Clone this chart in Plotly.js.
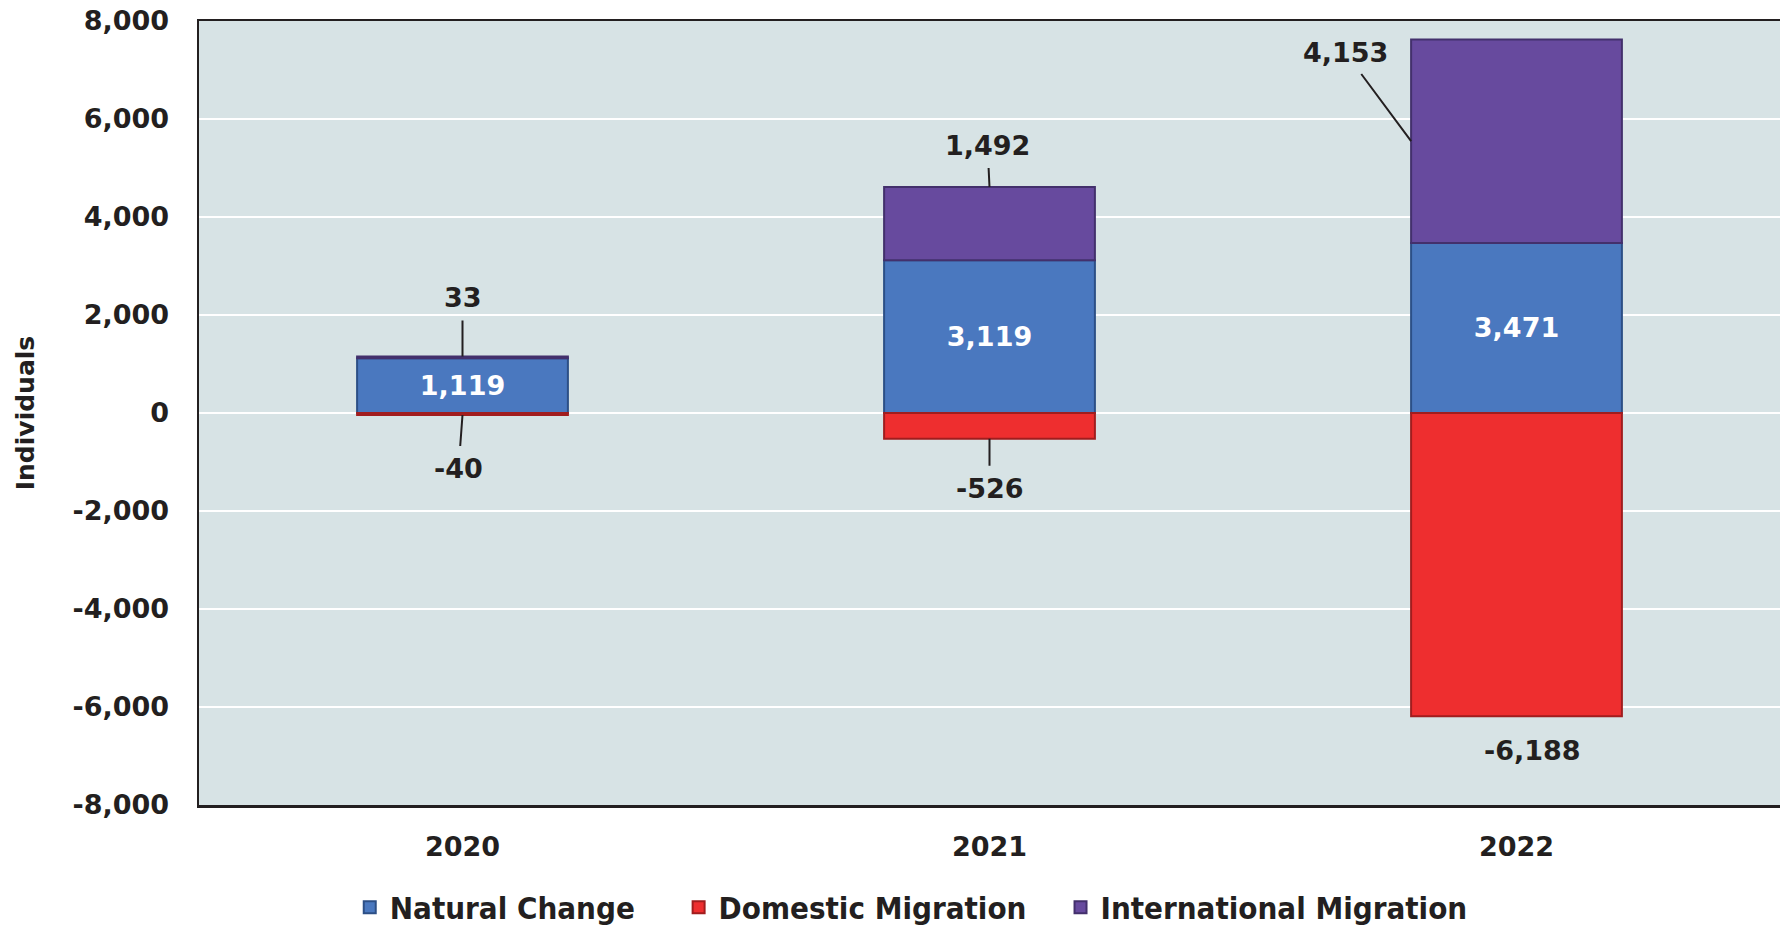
<!DOCTYPE html>
<html>
<head>
<meta charset="utf-8">
<script src="https://cdn.plot.ly/plotly-3.0.1.min.js"></script>
<style>html,body{margin:0;padding:0;background:#fff;}#chart{width:1780px;height:927px;}</style>
</head>
<body>
<div id="chart"></div>
<script>
const years = ["2020", "2021", "2022"];
const seriesNames = ["Natural Change", "Domestic Migration", "International Migration"];
const naturalChange = [1119, 3119, 3471];
const domesticMigration = [-40, -526, -6188];
const internationalMigration = [33, 1492, 4153];
const yTickVals = [-8000, -6000, -4000, -2000, 0, 2000, 4000, 6000, 8000];
const yTickText = ["-8,000", "-6,000", "-4,000", "-2,000", "0", "2,000", "4,000", "6,000", "8,000"];

const FONT = "DejaVu Sans, Arial, sans-serif";
const LEGFONT = "DejaVu Sans Condensed, DejaVu Sans, sans-serif";
const barWidth = 0.4;
const fmt = v => v.toLocaleString("en-US");
const pad4 = "\u00a0\u00a0\u00a0\u00a0";
const pad3 = "\u00a0\u00a0\u00a0";

const traces = [
  {name: seriesNames[0] + pad4, type: "bar", x: years, y: naturalChange, width: barWidth,
   marker: {color: "#4a78bf", line: {color: "#2c4f86", width: 2}},
   text: naturalChange.map(fmt), textposition: "inside", insidetextanchor: "middle",
   textfont: {family: FONT, size: 27, color: "#ffffff", weight: "bold"}},
  {name: seriesNames[1] + pad3, type: "bar", x: years, y: domesticMigration, width: barWidth,
   marker: {color: "#ee2e2f", line: {color: "#a11d1e", width: 2}}},
  {name: seriesNames[2], type: "bar", x: years, y: internationalMigration, width: barWidth,
   marker: {color: "#674a9e", line: {color: "#43306c", width: 2}}}
];

const labelFont = {family: FONT, size: 27, color: "#231f20", weight: "bold"};
const annotations = [];
const intlOffsets = [[0, -59], [-2, -42], [-66, -89]];
internationalMigration.forEach((v, i) => {
  const top = naturalChange[i] + v;
  const isLast = i === years.length - 1;
  annotations.push({
    x: isLast ? i - barWidth / 2 : i,
    y: isLast ? naturalChange[i] + v / 2 : top,
    xref: "x", yref: "y", text: fmt(v), font: labelFont,
    showarrow: true, arrowhead: 0, arrowwidth: 2, arrowcolor: "#231f20",
    ax: intlOffsets[i][0], ay: intlOffsets[i][1], standoff: 0, startstandoff: 6
  });
});
const domOffsets = [[-4, 54], [0, 50]];
domesticMigration.forEach((v, i) => {
  if (i < 2) {
    annotations.push({
      x: i, y: v, xref: "x", yref: "y", text: fmt(v), font: labelFont,
      showarrow: true, arrowhead: 0, arrowwidth: 2, arrowcolor: "#231f20",
      ax: domOffsets[i][0], ay: domOffsets[i][1], standoff: 0, startstandoff: 6
    });
  } else {
    annotations.push({
      x: i, y: v, xref: "x", yref: "y", text: fmt(v), font: labelFont,
      showarrow: false, yanchor: "top", yshift: -17, xshift: 16
    });
  }
});

const layout = {
  width: 1780, height: 927,
  margin: {l: 199, r: 0, t: 21, b: 122, pad: 0, autoexpand: false},
  paper_bgcolor: "#ffffff", plot_bgcolor: "#d7e3e5",
  barmode: "relative", bargap: 0.6,
  showlegend: true,
  legend: {orientation: "h", x: 0.4505, xanchor: "center", y: -0.131, yanchor: "middle",
           font: {family: LEGFONT, size: 31, color: "#231f20", weight: "bold"},
           itemwidth: 30, traceorder: "normal", bgcolor: "rgba(0,0,0,0)"},
  xaxis: {type: "category", range: [-0.5, 2.5], showgrid: false,
          showline: true, mirror: true, linecolor: "#231f20", linewidth: 2.5,
          ticks: "", ticklabelstandoff: 16,
          tickfont: {family: FONT, size: 27, color: "#231f20", weight: "bold"}},
  yaxis: {range: [-8000, 8000], tickvals: yTickVals, ticktext: yTickText,
          showgrid: true, gridcolor: "#ffffff", gridwidth: 2.5, zeroline: false,
          showline: true, mirror: false, linecolor: "#231f20", linewidth: 2.5,
          ticks: "", ticklabelstandoff: 22,
          tickfont: {family: FONT, size: 27, color: "#231f20", weight: "bold"},
          title: {text: "Individuals", standoff: 31,
                  font: {family: FONT, size: 25, color: "#231f20", weight: "bold"}}},
  annotations: annotations
};

Plotly.newPlot("chart", traces, layout, {displayModeBar: false, staticPlot: true});
</script>
</body>
</html>
